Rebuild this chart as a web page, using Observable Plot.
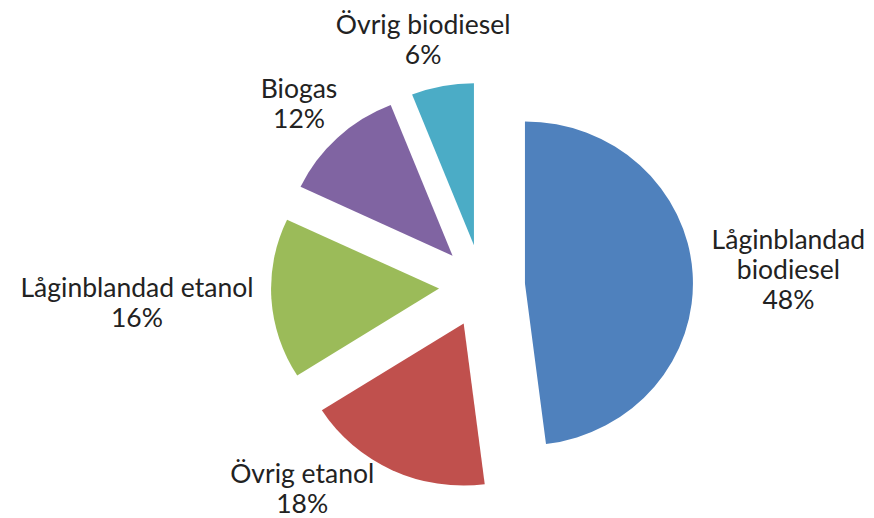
<!DOCTYPE html>
<html><head><meta charset="utf-8">
<script src="https://cdn.jsdelivr.net/npm/d3@7"></script>
<script src="https://cdn.jsdelivr.net/npm/@observablehq/plot@0.6"></script>
<style>html,body{margin:0;padding:0;background:#fff;} #chart{width:874px;height:518px;}</style>
</head><body><div id="chart"></div>
<script>
// ---- data ----
const categories = ["Låginblandad biodiesel", "Övrig etanol", "Låginblandad etanol", "Biogas", "Övrig biodiesel"];
const labelLines = [["Låginblandad", "biodiesel"], ["Övrig etanol"], ["Låginblandad etanol"], ["Biogas"], ["Övrig biodiesel"]];
const values = [48, 18, 16, 12, 6];
const colors = ["#4F81BD", "#C0504D", "#9BBB59", "#8064A2", "#4BACC6"];

// ---- layout ----
const W = 874, H = 518;
const CX = 482, CY = 286, R = 162, EXPLODE = 41.5, SX = 1.037, LABEL_GAP = 18;
const FONT = "Lato", FS = 26.5, LH = 30;

const total = d3.sum(values);
const arcs = d3.pie().sort(null).value(d => d)(values);
const slices = arcs.map((a, i) => ({
  i, name: categories[i], value: values[i],
  pct: Math.round(values[i] / total * 100),
  start: a.startAngle, end: a.endAngle,
  mid: (a.startAngle + a.endAngle) / 2, color: colors[i]
}));

// label placement: box touches a ring just outside the exploded pie, slides along ring if clipped
const ctx = document.createElement("canvas").getContext("2d");
ctx.font = `${FS}px ${FONT}`;
function boxAt(w, h, theta) {
  const ux = Math.sin(theta), uy = -Math.cos(theta);
  const Rl = R + EXPLODE + LABEL_GAP;
  return {x: CX + SX * Rl * ux + ux * w, y: CY + Rl * uy + uy * h};
}
const labels = slices.map((s, i) => {
  const lines = [...labelLines[i], s.pct + "%"];
  const w = d3.max(lines, t => ctx.measureText(t).width) / 2;
  const h = lines.length * LH / 2;
  let pos = boxAt(w, h, s.mid);
  const fits = p => p.x - w >= 0 && p.x + w <= W && p.y - h >= 0 && p.y + h <= H;
  if (!fits(pos)) {
    for (let k = 1; k < 180; k++) {
      const d = k * Math.PI / 360;
      const a = boxAt(w, h, s.mid + d), b = boxAt(w, h, s.mid - d);
      if (fits(a)) { pos = a; break; }
      if (fits(b)) { pos = b; break; }
    }
  }
  return {x: pos.x, y: pos.y, text: lines.join("\n")};
});

// pie render mark
const pieMark = (index, scales) => {
  const fx = scales && scales.x ? scales.x : (v => v);
  const fy = scales && scales.y ? scales.y : (v => v);
  const g = d3.create("svg:g");
  const arc = d3.arc().innerRadius(0).outerRadius(R);
  for (const s of slices) {
    const ox = CX + SX * EXPLODE * Math.sin(s.mid), oy = CY - EXPLODE * Math.cos(s.mid);
    g.append("path")
      .attr("d", arc({startAngle: s.start, endAngle: s.end}))
      .attr("fill", s.color)
      .attr("transform", `translate(${fx(ox)},${fy(oy)}) scale(${SX},1)`);
  }
  return g.node();
};

const chart = Plot.plot({
  width: W, height: H, margin: 0,
  x: {domain: [0, W], range: [0, W], axis: null},
  y: {domain: [0, H], range: [0, H], axis: null},
  style: {background: "white", overflow: "visible"},
  marks: [
    pieMark,
    Plot.text(labels, {x: "x", y: "y", text: "text", fontSize: FS, fontFamily: FONT,
      fontWeight: 400, lineHeight: LH / FS, fill: "#222", textAnchor: "middle"})
  ]
});
document.getElementById("chart").appendChild(chart);
</script>
</body></html>
